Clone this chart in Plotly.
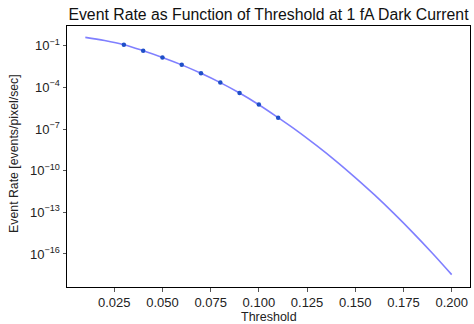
import plotly.graph_objects as go

# Curve (log10 of event rate)
thr_curve = [0.01, 0.02, 0.03, 0.04, 0.05, 0.06, 0.07, 0.08, 0.09, 0.10,
             0.11, 0.12, 0.13, 0.14, 0.15, 0.16, 0.17, 0.18, 0.19, 0.20]
log_rate_curve = [-0.40, -0.63, -0.93, -1.36, -1.84, -2.38, -2.99, -3.66, -4.41, -5.25,
                  -6.18, -7.15, -8.20, -9.31, -10.50, -11.75, -13.08, -14.48, -15.95, -17.49]

# Marked points
thr_pts = [0.03, 0.04, 0.05, 0.06, 0.07, 0.08, 0.09, 0.10, 0.11]
log_rate_pts = [-0.93, -1.37, -1.85, -2.38, -2.99, -3.65, -4.40, -5.24, -6.18]

ytick_exp = [-1, -4, -7, -10, -13, -16]
xtick_vals = [0.025, 0.050, 0.075, 0.100, 0.125, 0.150, 0.175, 0.200]
xtick_text = ["0.025", "0.050", "0.075", "0.100", "0.125", "0.150", "0.175", "0.200"]

FONT = "Liberation Sans, Arial, sans-serif"

fig = go.Figure()
fig.add_trace(go.Scatter(
    x=thr_curve, y=[10 ** v for v in log_rate_curve], mode="lines",
    line=dict(color="rgba(0,0,255,0.5)", width=1.6, shape="spline"),
    hoverinfo="skip", showlegend=False))
fig.add_trace(go.Scatter(
    x=thr_pts, y=[10 ** v for v in log_rate_pts], mode="markers",
    marker=dict(color="#1f4fc8", size=4.5), showlegend=False))

axis_common = dict(showgrid=False, zeroline=False, showline=True, linecolor="black",
                   linewidth=1, mirror=True, ticks="outside", ticklen=3.5,
                   tickcolor="#555", tickwidth=1,
                   tickfont=dict(family=FONT, size=13, color="#222"))

fig.update_xaxes(range=[0.0005, 0.2095], tickvals=xtick_vals, ticktext=xtick_text,
                 **axis_common)
fig.update_yaxes(type="log", range=[-18.38, 0.42],
                 tickvals=[10 ** e for e in ytick_exp],
                 ticktext=["10<sup>\u2212%d</sup>" % (-e) for e in ytick_exp],
                 **axis_common)

fig.update_layout(
    width=474, height=324,
    margin=dict(l=67, r=4, t=26, b=37),
    paper_bgcolor="white", plot_bgcolor="white",
    title=dict(text="Event Rate as Function of Threshold at 1 fA Dark Current",
               font=dict(family=FONT, size=15.8, color="#111"),
               x=0.5, xref="paper", xanchor="center",
               y=1 - 14 / 324, yref="container", yanchor="middle"),
    annotations=[
        dict(text="Threshold", xref="paper", yref="paper", x=0.5, y=-30 / 261,
             xanchor="center", yanchor="middle", showarrow=False,
             font=dict(family=FONT, size=12.5, color="#222")),
        dict(text="Event Rate [events/pixel/sec]", xref="paper", yref="paper",
             x=-53 / 403, y=0.51, xanchor="center", yanchor="middle", textangle=-90,
             showarrow=False, font=dict(family=FONT, size=12.3, color="#222")),
    ],
)

fig.write_html("out.html")
